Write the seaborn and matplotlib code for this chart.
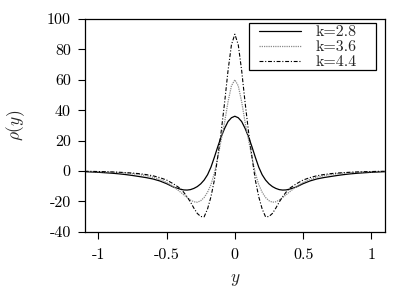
import matplotlib
matplotlib.use("Agg")
import matplotlib.pyplot as plt
from matplotlib.patches import Rectangle
import seaborn as sns
import pandas as pd

# ---- data ----
y_pos = [-1.1, -1.05, -1.0, -0.95, -0.9, -0.85, -0.8, -0.75, -0.7, -0.65, -0.6, -0.55,
         -0.5, -0.45, -0.4, -0.375, -0.35, -0.325, -0.3, -0.275, -0.25, -0.225, -0.2,
         -0.175, -0.15, -0.125, -0.1, -0.075, -0.05, -0.025, 0.0,
         0.025, 0.05, 0.075, 0.1, 0.125, 0.15, 0.175, 0.2, 0.225, 0.25, 0.275, 0.3,
         0.325, 0.35, 0.375, 0.4, 0.45, 0.5, 0.55, 0.6, 0.65, 0.7, 0.75, 0.8, 0.85,
         0.9, 0.95, 1.0, 1.05, 1.1]

rho_k28 = [-0.5, -0.7, -0.9, -1.2, -1.5, -1.9, -2.4, -3.0, -3.7, -4.4, -5.3, -6.6,
           -8.4, -10.6, -12.0, -12.5, -12.6, -12.3, -11.5, -10.3, -8.5, -6.0, -2.5,
           2.5, 9.0, 16.0, 22.5, 28.0, 32.5, 35.0, 36.0,
           35.0, 32.5, 28.0, 22.5, 16.0, 9.0, 2.5, -2.5, -6.0, -8.5, -10.3, -11.5,
           -12.3, -12.6, -12.5, -12.0, -10.6, -8.4, -6.6, -5.3, -4.4, -3.7, -3.0, -2.4,
           -1.9, -1.5, -1.2, -0.9, -0.7, -0.5]

rho_k36 = [-0.3, -0.4, -0.5, -0.6, -0.8, -1.1, -1.4, -1.8, -2.4, -3.1, -4.2, -5.6,
           -7.6, -10.3, -13.8, -15.7, -17.5, -19.2, -20.3, -20.6, -19.6, -17.5, -14.0,
           -9.0, -1.5, 9.0, 20.5, 32.0, 45.5, 56.0, 60.0,
           56.0, 45.5, 32.0, 20.5, 9.0, -1.5, -9.0, -14.0, -17.5, -19.6, -20.6, -20.3,
           -19.2, -17.5, -15.7, -13.8, -10.3, -7.6, -5.6, -4.2, -3.1, -2.4, -1.8, -1.4,
           -1.1, -0.8, -0.6, -0.5, -0.4, -0.3]

rho_k44 = [-0.25, -0.3, -0.4, -0.5, -0.65, -0.85, -1.1, -1.4, -1.8, -2.4, -3.2, -4.4,
           -6.0, -8.5, -11.5, -14.0, -17.0, -20.5, -24.5, -28.0, -30.0, -30.2, -25.0,
           -17.0, -6.0, 9.5, 26.0, 45.0, 66.0, 83.0, 90.0,
           83.0, 66.0, 45.0, 26.0, 9.5, -6.0, -17.0, -25.0, -30.2, -30.0, -28.0, -24.5,
           -20.5, -17.0, -14.0, -11.5, -8.5, -6.0, -4.4, -3.2, -2.4, -1.8, -1.4, -1.1,
           -0.85, -0.65, -0.5, -0.4, -0.3, -0.25]

series_labels = ["k=2.8", "k=3.6", "k=4.4"]
xticks = [-1, -0.5, 0, 0.5, 1]
xtick_labels = ["-1", "-0.5", "0", "0.5", "1"]
yticks = [-40, -20, 0, 20, 40, 60, 80, 100]
ytick_labels = ["-40", "-20", "0", "20", "40", "60", "80", "100"]

# ---- style ----
sns.set_style("ticks")
plt.rcParams["font.family"] = ["serif"]
plt.rcParams["font.serif"] = ["cmr10", "DejaVu Serif"]
plt.rcParams["mathtext.fontset"] = "cm"
plt.rcParams["axes.unicode_minus"] = False
plt.rcParams["axes.linewidth"] = 0.9

fig = plt.figure(figsize=(4.15, 2.89), dpi=100)
ax = fig.add_axes([84.7 / 415, (289 - 231.7) / 289, 300.3 / 415, 212.7 / 289])

df = pd.DataFrame({"y": y_pos * 3,
                   "rho": rho_k28 + rho_k36 + rho_k44,
                   "k": [series_labels[0]] * len(y_pos) + [series_labels[1]] * len(y_pos)
                        + [series_labels[2]] * len(y_pos)})

styles = {
    series_labels[0]: dict(color="black", linestyle="-", linewidth=0.9),
    series_labels[1]: dict(color="#8a8a8a", linestyle=(0, (1, 0.8)), linewidth=0.9),
    series_labels[2]: dict(color="black", linestyle=(0, (3.5, 1.6, 1, 1.6)), linewidth=0.8),
}
for lab in series_labels:
    sub = df[df["k"] == lab]
    sns.lineplot(data=sub, x="y", y="rho", ax=ax, label=lab, sort=False,
                 estimator=None, **styles[lab])

ax.set_xlim(-1.1, 1.1)
ax.set_ylim(-40, 100)
ax.set_xticks(xticks)
ax.set_xticklabels(xtick_labels)
ax.set_yticks(yticks)
ax.set_yticklabels(ytick_labels)
ax.tick_params(direction="out", length=5, width=0.8, labelsize=11.5, colors="black")
ax.tick_params(axis="x", pad=7)
ax.tick_params(axis="y", pad=5)
ax.set_xlabel(r"$y$", fontsize=12.5, labelpad=7)
ax.set_ylabel(r"$\rho(y)$", fontsize=12.5, labelpad=14)
for s in ax.spines.values():
    s.set_color("black")

# legend entries (frameless) with a separate box drawn around them
leg = ax.legend(loc="upper left", bbox_to_anchor=((259 - 84.7) / 300.3, (231.7 - 25.0) / 212.7),
                borderaxespad=0, borderpad=0, frameon=False, fontsize=11.5,
                handlelength=2.6, handletextpad=0.95, labelspacing=0.06)
box = Rectangle(((249 - 84.7) / 300.3, (231.7 - 70) / 212.7),
                (376 - 249) / 300.3, (70 - 23.3) / 212.7,
                transform=ax.transAxes, fill=True, facecolor="white",
                edgecolor="black", linewidth=0.9, zorder=4)
ax.add_patch(box)
leg.set_zorder(5)

fig.savefig("out.png", dpi=100)
